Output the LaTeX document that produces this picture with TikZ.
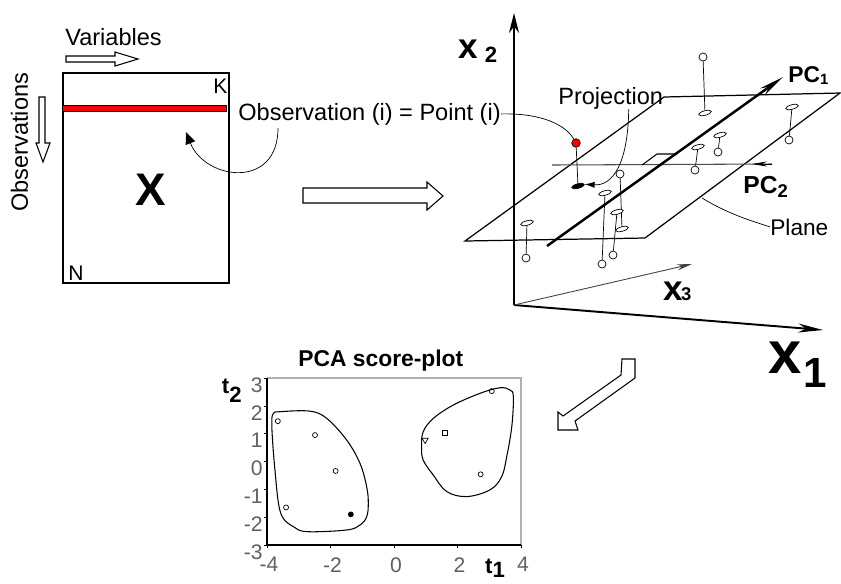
\documentclass[tikz,border=0pt]{standalone}
\usepackage{fontspec}
\setmainfont{Liberation Sans}
\usetikzlibrary{arrows.meta,shapes.geometric}

\tikzset{
  hollow/.style={draw, fill=white, line width=0.6pt},
  lbl/.style={inner sep=0pt, anchor=base west, font=\fontsize{13.4}{15}\selectfont},
  big/.style={inner sep=0pt, anchor=base west, font=\bfseries\fontsize{#1}{#1}\selectfont},
  tick/.style={inner sep=0pt, text=gray!75!black, font=\fontsize{12}{14}\selectfont},
  dot/.style={circle, draw, fill=white, inner sep=0pt, minimum size=0.16cm},
  flat/.style={ellipse, draw, fill=white, inner sep=0pt, minimum width=0.26cm, minimum height=0.09cm, rotate=15},
  score/.style={circle, draw, inner sep=0pt, minimum size=0.1cm},
}

\begin{document}
\begin{tikzpicture}[x=0.02cm, y=-0.02cm]
  \useasboundingbox (0,0) rectangle (841,583);

  % data matrix
  \node[draw, line width=0.8pt, minimum width=3.32cm, minimum height=4.2cm, inner sep=0pt] (mat) at (146,178) {};
  \draw[fill=red, line width=0.4pt] (62,105) rectangle (226,111);
  \node[big=26] (bigX) at (135,205) {X};
  \node[lbl, font=\fontsize{12}{14}\selectfont] (K) at (213,93) {K};
  \node[lbl, font=\fontsize{12}{14}\selectfont] (N) at (68,280) {N};
  \node[lbl] (vars) at (65,45) {Variables};
  \draw[hollow] (66,56) -- (115,56) -- (115,52) -- (138,59) -- (115,66) -- (115,62) -- (66,62) -- cycle;
  \node[lbl, rotate=90] (obsv) at (28,212) {Observations};
  \draw[hollow] (39,97) -- (45,97) -- (45,143) -- (50,143) -- (43,162) -- (36,143) -- (39,143) -- cycle;

  \node[lbl] (obs) at (238,120) {Observation (i) = Point (i)};
  \coordinate (arcstart) at (278,128);
  \coordinate (rowpick) at (186,132);
  \draw[-{Triangle[length=0.24cm,width=0.2cm]}] (arcstart) .. controls (278,190) and (205,180) .. (rowpick);

  % big arrow
  \draw[hollow] (303,188) -- (427,188) -- (427,182) -- (443,196) -- (427,210) -- (427,203) -- (303,203) -- cycle;

  % 3D space
  \coordinate (O) at (514,305);
  \coordinate (x1end) at (823,330);
  \coordinate (x2end) at (514,13);
  \coordinate (x3end) at (692,264);
  \draw[line width=1pt, -{Stealth[length=0.4cm,width=0.2cm]}] (O) -- (x2end);
  \draw[line width=1.1pt, -{Stealth[length=0.5cm,width=0.18cm]}] (O) -- (x1end);
  \draw[gray!50!black, line width=0.5pt, -{Stealth[length=0.3cm,width=0.12cm]}] (O) -- (x3end);
  \node[big=20] (x2lab) at (458,58) {x\kern4pt\raisebox{-2.8pt}{\fontsize{12.6}{13}\selectfont 2}};
  \node[big=34] (x1lab) at (768,373) {x\kern1pt\raisebox{-8.5pt}{\fontsize{24}{24}\selectfont 1}};
  \node[big=20] (x3lab) at (663,300) {x\kern-1pt{\fontsize{10.5}{11}\selectfont 3}};

  % plane and components
  \draw[line width=0.7pt] (465,241) -- (645,238) -- (840,93) -- (664,97) -- cycle;
  \draw[gray!60!black, line width=0.6pt] (772,164) -- (552,165);
  \draw[-{Stealth[length=0.3cm,width=0.1cm]}] (772,164) -- (752,164);
  \draw[line width=0.6pt] (642,165) -- (657,154) -- (677,154);
  \draw[line width=1.4pt, -{Stealth[length=0.5cm,width=0.16cm]}] (547,246) -- (783,77);
  \node[big=13] (pc1) at (788,82) {PC\raisebox{-1.7pt}{\fontsize{8.5}{9}\selectfont 1}};
  \node[big=14] (pc2) at (743,193) {PC\raisebox{-2.3pt}{\fontsize{10.5}{11}\selectfont 2}};

  \foreach \n/\px/\py/\fx/\fy in {a/703/57/705/113, b/789/140/792/107, c/718/152/720/135, d/695/170/698/147,
                                  e/620/174/622/229, f/602/264/605/193, g/613/255/617/212, h/526/258/527/223}
  {
    \node[dot] (pt\n) at (\px,\py) {};
    \node[flat] (pr\n) at (\fx,\fy) {};
    \draw (pt\n) -- (pr\n);
  }

  \node[circle, draw, fill=red, inner sep=0pt, minimum size=0.17cm] (reddot) at (576,143) {};
  \node[flat, fill=black] (proj) at (578,186) {};
  \draw (reddot) -- (proj);
  \draw (obs.east) .. controls (540,113) and (565,124) .. (reddot);

  \node[lbl] (projlab) at (558,104) {Projection};
  \draw[-{Latex[length=0.2cm,width=0.12cm]}] ([xshift=0.36cm]projlab.south) .. controls (628,165) and (612,186) .. (proj.east);

  \node[lbl, font=\fontsize{12.9}{14}\selectfont] (planelab) at (770,235) {Plane};
  \coordinate (edgept) at (702,198);
  \draw (edgept) .. controls (725,212) and (745,219) .. (planelab.west);

  % bent arrow
  \draw[hollow] (622,359) -- (635,359) -- (635,378) -- (575,421) -- (578,430) -- (558,430) -- (558,412) -- (563,416) -- (621,375) -- cycle;

  % score plot
  \node[big=13] (title) at (298,366) {PCA score-plot};
  \begin{scope}[shift={(394,461.5)}, x=0.635cm, y=0.5567cm]
    \draw[gray!60, line width=0.8pt] (-4,3) -- (4,3) -- (4,-3);
    \draw[line width=0.8pt] (-4,3) -- (-4,-3) -- (4,-3);
    \foreach \v in {-3,...,3} {
      \draw (-4,\v) -- (-4.1,\v);
      \node[tick, anchor=east] at (-4.13,\v-0.25) {\v};
    }
    \foreach \v in {-4,-2,0,2,4} {
      \draw (\v,-3) -- (\v,-3.12);
      \node[tick, anchor=north] at (\v+0.06,-3.43) {\v};
    }
    \node[big=12.6] (t2) at (-5.43,2.45) {t\raisebox{-5pt}{2}};
    \node[big=12.6] (t1) at (2.86,-4.02) {t\raisebox{-2.6pt}{1}};

    \node[score] (s1) at (-3.66,1.45) {};
    \node[score] (s2) at (-2.49,0.95) {};
    \node[score] (s3) at (-1.84,-0.34) {};
    \node[score] (s4) at (-3.40,-1.65) {};
    \node[score, fill=black] (s5) at (-1.36,-1.90) {};
    \node[score] (s6) at (3.08,2.53) {};
    \node[regular polygon, regular polygon sides=3, shape border rotate=180, draw, inner sep=0pt, minimum size=0.14cm] (s7) at (0.98,0.77) {};
    \node[rectangle, draw, inner sep=0pt, minimum size=0.1cm] (s8) at (1.61,1.04) {};
    \node[score] (s9) at (2.73,-0.46) {};

    \draw[line width=0.6pt] plot[smooth cycle, tension=0.6] coordinates {(-3.80,1.73) (-3.59,1.79) (-2.65,1.81) (-2.12,1.55)
      (-1.49,0.77) (-1.07,-0.07) (-0.86,-0.91) (-0.81,-1.50) (-0.86,-1.98) (-1.07,-2.28) (-1.49,-2.46) (-2.75,-2.52)
      (-3.17,-2.34) (-3.49,-2.04) (-3.64,-1.50) (-3.75,-0.31) (-3.82,0.65) (-3.85,1.43)};
    \draw[line width=0.6pt] plot[smooth cycle, tension=0.6] coordinates {(0.87,0.53) (0.92,1.07) (1.24,1.55) (1.87,2.03)
      (2.71,2.45) (3.34,2.65) (3.65,2.57) (3.76,2.33) (3.71,1.25) (3.55,0.17) (3.39,-0.55) (3.02,-1.02) (2.29,-1.26)
      (1.66,-1.08) (1.24,-0.49) (0.92,0.05)};
  \end{scope}
\end{tikzpicture}
\end{document}
